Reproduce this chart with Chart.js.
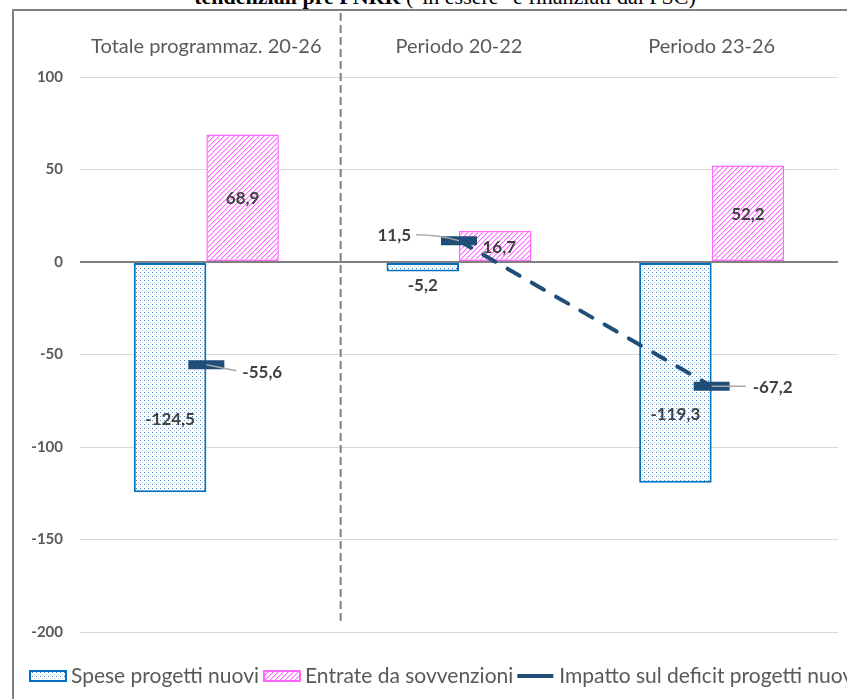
<!DOCTYPE html>
<html lang="it">
<head>
    <meta charset="UTF-8">
    <title>Impatto progetti nuovi</title>
    <script src="https://cdn.jsdelivr.net/npm/chart.js"></script>
    <style>
        html, body { margin: 0; padding: 0; background: #fff; overflow: hidden; }
        .wrap { position: relative; width: 847px; height: 699px; overflow: hidden; }
        /* titolo tagliato in alto, come nello screenshot */
        .titolo {
            position: absolute; left: 0; top: -14px; width: 890px;
            text-align: center; white-space: nowrap;
            font-family: "Liberation Serif", "Times New Roman", serif;
            font-size: 22px; line-height: 22px; color: #000;
        }
        .cornice {
            position: absolute; left: 12px; top: 9px; width: 900px; height: 720px;
            border: 2px solid #808080;
        }
        .chart-box { position: absolute; left: 0; top: 0; width: 847px; height: 699px; }
    </style>
</head>
<body>
<div class="wrap">
    <div class="titolo"><b>tendenziali pre PNRR</b> ("in essere" e finanziati dal FSC)</div>
    <div class="cornice"></div>
    <div class="chart-box"><canvas id="grafico"></canvas></div>
</div>

<script>
    // Dati
    const categorie = ['Totale programmaz. 20-26', 'Periodo 20-22', 'Periodo 23-26'];
    const spese = [-124.5, -5.2, -119.3];
    const entrate = [68.9, 16.7, 52.2];
    const impatto = [-55.6, 11.5, -67.2];
    const yMin = -200, yMax = 100, yStep = 50;

    const FONT = 'Lato, "Open Sans", sans-serif';
    const BLU = '#0070C0';
    const ROSA = '#FF66FF';
    const NAVY = '#1F4E79';

    const fmt = v => v.toFixed(1).replace('.', ',');

    // Trame delle barre
    function trattiniPunti() {
        const c = document.createElement('canvas');
        c.width = 4; c.height = 4;
        const g = c.getContext('2d');
        g.fillStyle = '#fff'; g.fillRect(0, 0, 4, 4);
        g.fillStyle = '#3f7fc4'; g.fillRect(0, 0, 1, 1);
        g.fillStyle = '#a9c8ea'; g.fillRect(2, 2, 1, 1);
        return g.createPattern(c, 'repeat');
    }
    function trattiniDiagonali() {
        const c = document.createElement('canvas');
        c.width = 5; c.height = 5;
        const g = c.getContext('2d');
        g.fillStyle = '#fff'; g.fillRect(0, 0, 5, 5);
        for (let i = 0; i < 5; i++) {
            g.fillStyle = ROSA; g.fillRect(4 - i, i, 1, 1);
            g.fillStyle = '#ffc4ff'; g.fillRect((5 - i) % 5, i, 1, 1);
        }
        return g.createPattern(c, 'repeat');
    }
    const trPunti = trattiniPunti();
    const trDiag = trattiniDiagonali();

    // Linea verticale tratteggiata tra il totale e i periodi
    const separatore = {
        id: 'separatore',
        beforeDatasetsDraw(chart) {
            const {ctx, chartArea} = chart;
            const xs = chart.scales.x;
            const x = (xs.getPixelForValue(0) + xs.getPixelForValue(1)) / 2 + 8;
            ctx.save();
            ctx.strokeStyle = '#808080';
            ctx.lineWidth = 2;
            ctx.setLineDash([8, 4]);
            ctx.beginPath();
            ctx.moveTo(x, chartArea.top - 64);
            ctx.lineTo(x, chartArea.bottom - 7);
            ctx.stroke();
            ctx.restore();
        }
    };

    // Etichette dei valori
    const etichette = {
        id: 'etichette',
        afterDatasetsDraw(chart) {
            const ctx = chart.ctx;
            ctx.save();
            ctx.font = 'bold 17px ' + FONT;
            ctx.fillStyle = '#404040';
            ctx.textBaseline = 'middle';
            ctx.textAlign = 'center';

            chart.getDatasetMeta(0).data.forEach((el, i) => {
                const alta = Math.abs(spese[i]) > 20;
                const y = alta ? (el.y + el.base) / 2 + 42 : el.y + 14;
                ctx.fillText(fmt(spese[i]), el.x, y);
            });
            chart.getDatasetMeta(1).data.forEach((el, i) => {
                ctx.fillText(fmt(entrate[i]), el.x + (i === 1 ? 4 : 0), (el.y + el.base) / 2 + 1);
            });

            // linee guida + etichette della linea
            const guide = [
                {lx: 30, ly: 6, tx: 36, ty: 8, align: 'left'},
                {lx: -43, ly: -6, tx: -48, ty: -5, align: 'right', curva: true},
                {lx: 34, ly: 0, tx: 41, ty: 1, align: 'left'}
            ];
            chart.getDatasetMeta(2).data.forEach((el, i) => {
                const g = guide[i];
                ctx.strokeStyle = '#a6a6a6';
                ctx.lineWidth = 1.5;
                ctx.beginPath();
                ctx.moveTo(el.x, el.y);
                if (g.curva) {
                    ctx.quadraticCurveTo(el.x - 20, el.y - 6, el.x + g.lx, el.y + g.ly);
                } else {
                    ctx.lineTo(el.x + g.lx, el.y + g.ly);
                }
                ctx.stroke();
                ctx.textAlign = g.align;
                ctx.fillText(fmt(impatto[i]), el.x + g.tx, el.y + g.ty);
            });
            ctx.restore();
        }
    };

    // Legenda disegnata a mano (esce oltre il bordo destro come nell'originale)
    const legenda = {
        id: 'legenda',
        afterDraw(chart) {
            const {ctx, chartArea} = chart;
            const y = chartArea.bottom + 44;
            let x = 29;
            ctx.save();
            ctx.font = '21px ' + FONT;
            ctx.textBaseline = 'middle';
            chart.data.datasets.forEach(ds => {
                if (ds.type === 'line') {
                    ctx.strokeStyle = ds.borderColor;
                    ctx.lineWidth = 4;
                    ctx.beginPath();
                    ctx.moveTo(x, y);
                    ctx.lineTo(x + 36, y);
                    ctx.stroke();
                } else {
                    ctx.fillStyle = ds.backgroundColor;
                    ctx.fillRect(x, y - 6, 38, 12);
                    ctx.strokeStyle = ds.borderColor;
                    ctx.lineWidth = 2;
                    ctx.strokeRect(x + 1, y - 5, 36, 10);
                }
                x += 42;
                ctx.fillStyle = '#595959';
                ctx.fillText(ds.label, x, y);
                x += ctx.measureText(ds.label).width + 4;
            });
            ctx.restore();
        }
    };

    const grafico = new Chart(document.getElementById('grafico'), {
        type: 'bar',
        data: {
            labels: categorie,
            datasets: [{
                label: 'Spese progetti nuovi',
                data: spese,
                backgroundColor: trPunti,
                borderColor: BLU,
                borderWidth: 2,
                borderSkipped: false,
                order: 1
            }, {
                label: 'Entrate da sovvenzioni',
                data: entrate,
                backgroundColor: trDiag,
                borderColor: ROSA,
                borderWidth: 1.5,
                borderSkipped: false,
                order: 1
            }, {
                type: 'line',
                label: 'Impatto sul deficit progetti nuovi',
                data: impatto,
                borderColor: NAVY,
                borderWidth: 4,
                borderDash: [14, 14],
                borderCapStyle: 'round',
                segment: {
                    borderColor: ctx => ctx.p0DataIndex === 0 ? 'rgba(0,0,0,0)' : undefined
                },
                pointStyle: 'line',
                pointRadius: 18,
                pointBorderWidth: 9,
                pointBorderColor: NAVY,
                pointBackgroundColor: NAVY,
                tension: 0,
                order: 0
            }]
        },
        options: {
            responsive: true,
            maintainAspectRatio: false,
            animation: false,
            events: [],
            categoryPercentage: 0.574,
            barPercentage: 1,
            layout: { autoPadding: false, padding: { left: 0, right: 9, top: 0, bottom: 67 } },
            plugins: {
                legend: { display: false },
                tooltip: { enabled: false }
            },
            scales: {
                x: {
                    position: 'top',
                    grid: { display: false, drawTicks: false },
                    border: { display: false },
                    ticks: {
                        color: '#595959',
                        font: { family: FONT, size: 20 },
                        padding: 18,
                        maxRotation: 0
                    },
                    afterFit(scale) { scale.height = 77; }
                },
                y: {
                    min: yMin,
                    max: yMax,
                    border: { display: false },
                    grid: {
                        drawTicks: false,
                        color: ctx => ctx.tick.value === 0 ? '#808080' : '#d9d9d9',
                        lineWidth: ctx => ctx.tick.value === 0 ? 2 : 1
                    },
                    ticks: {
                        stepSize: yStep,
                        color: '#595959',
                        font: { family: FONT, size: 15, weight: 'bold' },
                        padding: 17
                    },
                    afterFit(scale) { scale.width = 80; }
                }
            }
        },
        plugins: [separatore, etichette, legenda]
    });
</script>
</body>
</html>
